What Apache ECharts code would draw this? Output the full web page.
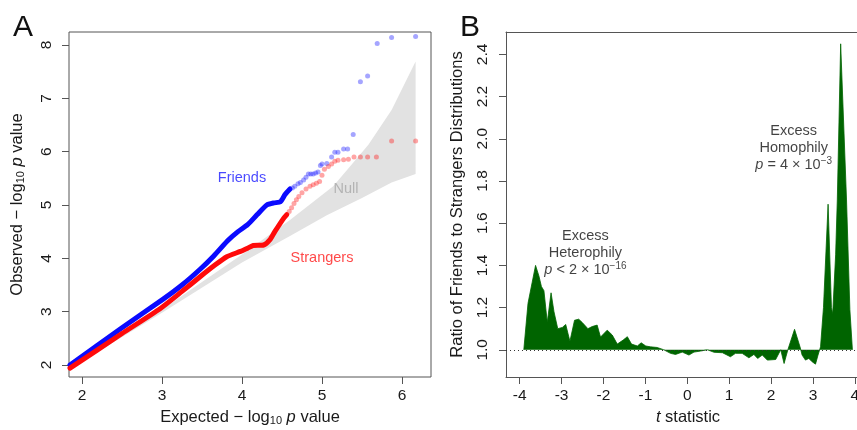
<!DOCTYPE html>
<html><head><meta charset="utf-8">
<script src="https://cdn.jsdelivr.net/npm/echarts@6/dist/echarts.min.js"></script>
<style>html,body{margin:0;padding:0;background:#fff}#c{width:857px;height:430px}</style>
</head><body><div id="c"></div><script>
// ---------- Panel A data (expected vs observed -log10 p) ----------
const friendsLine = [[1.85,2.0],[2.5,2.7],[3.01,3.23],[3.25,3.5],[3.48,3.8],[3.65,4.05],[3.82,4.33],[3.95,4.5],[4.07,4.63],[4.19,4.82],[4.31,5.0],[4.4,5.04],[4.48,5.06],[4.54,5.2],[4.6,5.3]];
const friendsPoints = [[4.63,5.32],[4.66,5.35],[4.7,5.4],[4.73,5.42],[4.77,5.47],[4.8,5.52],[4.83,5.58],[4.86,5.58],[4.89,5.58],[4.92,5.6],[4.95,5.62],[4.98,5.74],[5.0,5.77],[5.06,5.78],[5.12,5.9],[5.16,5.99],[5.2,5.99],[5.27,6.05],[5.32,6.05],[5.39,6.32],[5.48,7.31],[5.57,7.42],[5.69,8.03],[5.87,8.14],[6.17,8.16]];
const strangersLine = [[1.85,1.94],[2.5,2.59],[2.98,3.06],[3.25,3.38],[3.48,3.66],[3.65,3.86],[3.81,4.03],[3.98,4.13],[4.07,4.19],[4.14,4.24],[4.27,4.25],[4.35,4.35],[4.41,4.5],[4.52,4.75],[4.56,4.82]];
const strangersPoints = [[4.59,4.88],[4.62,4.95],[4.65,5.03],[4.68,5.1],[4.71,5.16],[4.75,5.23],[4.8,5.3],[4.85,5.35],[4.89,5.38],[4.93,5.41],[4.97,5.44],[5.0,5.56],[5.03,5.67],[5.08,5.72],[5.12,5.77],[5.16,5.82],[5.2,5.84],[5.27,5.85],[5.33,5.86],[5.4,5.9],[5.48,5.9],[5.57,5.9],[5.68,5.9],[5.87,6.2],[6.17,6.2]];
const nullUpper = [[1.85,1.95],[3.0,3.04],[4.0,4.07],[4.6,4.72],[5.14,5.35],[5.35,5.72],[5.58,6.13],[5.87,6.78],[6.17,7.69]];
const nullLower = [[1.85,1.93],[3.0,2.98],[4.0,3.92],[4.6,4.42],[5.06,4.81],[5.5,5.13],[5.87,5.42],[6.17,5.58]];
const ticksAx = [2,3,4,5,6];
const ticksAy = [2,3,4,5,6,7,8];

// ---------- Panel B data (ratio of friends to strangers distributions) ----------
const tStat = [-3.9,-3.8,-3.7,-3.62,-3.54,-3.48,-3.42,-3.34,-3.25,-3.18,-3.09,-2.98,-2.9,-2.8,-2.69,-2.59,-2.51,-2.37,-2.27,-2.15,-2.07,-1.91,-1.79,-1.67,-1.53,-1.43,-1.33,-1.19,-1.1,-0.99,-0.88,-0.72,-0.56,-0.4,-0.28,-0.12,0.04,0.16,0.32,0.48,0.64,0.84,1.03,1.15,1.31,1.47,1.59,1.68,1.79,1.91,2.11,2.23,2.31,2.4,2.56,2.69,2.74,2.82,2.9,2.98,3.06,3.12,3.18,3.25,3.36,3.44,3.47,3.54,3.58,3.66,3.8,3.88,3.94];
const ratio = [1.0,1.22,1.32,1.40,1.35,1.30,1.28,1.13,1.27,1.18,1.10,1.106,1.12,1.04,1.14,1.145,1.13,1.10,1.11,1.117,1.06,1.093,1.07,1.027,1.046,1.062,1.027,1.018,1.033,1.018,1.014,1.011,1.0,0.983,0.978,0.989,0.975,0.989,0.994,1.0,0.988,0.986,0.967,0.983,0.983,0.962,0.978,0.959,0.975,0.951,0.954,1.0,0.935,1.0,1.097,1.014,0.975,0.951,0.959,0.943,0.932,0.975,1.014,1.2,1.69,1.2,1.17,1.45,1.71,2.45,1.71,1.19,1.0];
const ticksBx = [-4,-3,-2,-1,0,1,2,3,4];
const ticksBy = [1.0,1.2,1.4,1.6,1.8,2.0,2.2,2.4];

// annotation anchors (data coordinates)
const labelsA = [
  {text:'Friends', pos:[4.0,5.51], color:'#1a1aff'},
  {text:'Strangers', pos:[5.0,4.01], color:'#ff1a1a'},
  {text:'Null', pos:[5.3,5.3], color:'#a8a8a8'}
];
const labelsB = [
  {text:'Excess\nHeterophily\n{it|p} < 2 \u00d7 10{sup|\u221216}', pos:[-2.43,1.458]},
  {text:'Excess\nHomophily\n{it|p} = 4 \u00d7 10{sup|\u22123}', pos:[2.54,1.956]}
];

const FONT = 'Liberation Sans, Arial, Helvetica, sans-serif';
const FRAME = '#555';
const TXT = '#1a1a1a';
const NAMESIZE = 16.5;
const TICKSIZE = 15.5;
const subRich = {
  sub:{fontSize:11, verticalAlign:'bottom', fontFamily:FONT, color:TXT},
  it:{fontStyle:'italic', fontSize:NAMESIZE, fontFamily:FONT, color:TXT}
};

function valueAxis(gridIndex, min, max, ticks, fmt, name, nameGap, labelExtra, showLine){
  return {
    type:'value', gridIndex, min, max,
    axisLine:{show:!!showLine, onZero:false, lineStyle:{color:FRAME, width:1}},
    splitLine:{show:false},
    axisTick:{show:true, inside:false, length:7, lineStyle:{color:FRAME, width:1}, customValues:ticks},
    axisLabel:Object.assign({show:true, customValues:ticks, formatter:fmt, color:TXT, fontSize:TICKSIZE, fontFamily:FONT}, labelExtra),
    name, nameLocation:'middle', nameGap,
    nameTextStyle:{fontSize:NAMESIZE, fontFamily:FONT, color:TXT, rich:subRich}
  };
}

const chart = echarts.init(document.getElementById('c'), null, {renderer:'canvas'});
const option = {
  animation:false,
  backgroundColor:'#fff',
  title:[
    {text:'A', left:8, top:8, textStyle:{fontSize:30, fontWeight:'normal', fontFamily:FONT, color:'#111'}},
    {text:'B', left:455, top:8, textStyle:{fontSize:30, fontWeight:'normal', fontFamily:FONT, color:'#111'}}
  ],
  grid:[
    {left:69, top:32, width:362, height:345, show:true, borderColor:FRAME, borderWidth:1, backgroundColor:'transparent', outerBoundsMode:'none', containLabel:false},
    {left:506, top:32, width:364, height:345, show:false, outerBoundsMode:'none', containLabel:false}
  ],
  xAxis:[
    valueAxis(0, 1.8375, 6.3625, ticksAx, v=>String(v), 'Expected \u2212 log{sub|10} {it|p} value', 32, {margin:11}),
    valueAxis(1, -4.325, 4.36, ticksBx, v=>String(v), '{it|t} statistic', 32, {margin:11}, true),
    {type:'value', gridIndex:1, position:'top', min:-4.325, max:4.36,
     axisLine:{show:true, onZero:false, lineStyle:{color:FRAME, width:1}},
     axisTick:{show:false}, axisLabel:{show:false}, splitLine:{show:false}}
  ],
  yAxis:[
    valueAxis(0, 1.775, 8.244, ticksAy, v=>String(v), 'Observed \u2212 log{sub|10} {it|p} value', 43, {rotate:90, margin:14}),
    valueAxis(1, 0.871, 2.506, ticksBy, v=>v.toFixed(1), 'Ratio of Friends to Strangers Distributions', 40, {rotate:90, margin:15}, true)
  ],
  series:[
    {
      type:'custom', xAxisIndex:0, yAxisIndex:0, silent:true, clip:true, z:1,
      data:[nullUpper[0]],
      renderItem:(params, api)=>{
        const pts = nullUpper.map(p=>api.coord(p)).concat(nullLower.slice().reverse().map(p=>api.coord(p)));
        return {type:'polygon', shape:{points:pts}, style:{fill:'#e2e2e2'}};
      }
    },
    {type:'line', xAxisIndex:0, yAxisIndex:0, data:friendsLine, symbol:'none', smooth:0.2, lineStyle:{color:'#0a0aff', width:5, cap:'round', join:'round'}, z:3},
    {type:'scatter', xAxisIndex:0, yAxisIndex:0, data:friendsPoints, symbolSize:5, itemStyle:{color:'rgba(30,30,255,0.5)'}, z:3},
    {type:'line', xAxisIndex:0, yAxisIndex:0, data:strangersLine, symbol:'none', smooth:0.2, lineStyle:{color:'#ff0a0a', width:5, cap:'round', join:'round'}, z:4},
    {type:'scatter', xAxisIndex:0, yAxisIndex:0, data:strangersPoints, symbolSize:5, itemStyle:{color:'rgba(255,30,30,0.5)'}, z:4},
    {
      type:'scatter', xAxisIndex:0, yAxisIndex:0, symbolSize:0, z:6, silent:true,
      data:labelsA.map(l=>({value:l.pos, label:{formatter:l.text, color:l.color}})),
      label:{show:true, position:'inside', fontSize:14.5, fontFamily:FONT}
    },
    {
      type:'line', xAxisIndex:1, yAxisIndex:1, symbol:'none', z:3,
      data:tStat.map((t,i)=>[t, ratio[i]]),
      lineStyle:{color:'#006400', width:0.8},
      areaStyle:{color:'#006400', opacity:1, origin:1},
      markLine:{silent:true, symbol:'none', label:{show:false},
        lineStyle:{color:'#333', type:[1,3], width:1},
        data:[{yAxis:1}]}
    },
    {
      type:'scatter', xAxisIndex:1, yAxisIndex:1, symbolSize:0, z:6, silent:true,
      data:labelsB.map(l=>({value:l.pos, label:{formatter:l.text}})),
      label:{show:true, position:'inside', fontSize:14.5, fontFamily:FONT, color:'#111', lineHeight:17, align:'center',
        rich:{it:{fontStyle:'italic', fontSize:14.5, fontFamily:FONT, color:'#111', lineHeight:17},
              sup:{fontSize:10, fontFamily:FONT, color:'#111', verticalAlign:'top', lineHeight:17}}}
    }
  ]
};
chart.setOption(option);
</script></body></html>
